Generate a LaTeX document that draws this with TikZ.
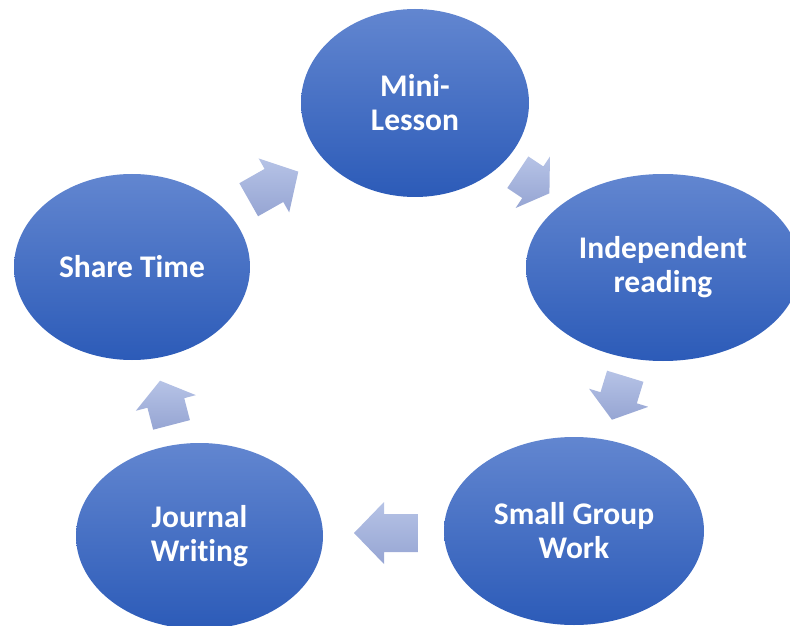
\documentclass[tikz,border=0pt]{standalone}
\usepackage{fontspec}
\setmainfont[Ligatures={NoCommon}]{Carlito}
\usetikzlibrary{shapes.geometric}
\definecolor{elltop}{RGB}{98,134,208}
\definecolor{ellbot}{RGB}{44,91,184}
\definecolor{arrtop}{RGB}{182,195,230}
\definecolor{arrbot}{RGB}{150,165,211}
\tikzset{
  cyclebox/.style={ellipse, inner sep=0pt, top color=elltop, bottom color=ellbot, draw=none,
    text=white, align=center, font=\fontsize{31.5}{34}\selectfont\bfseries},
  arrowfill/.style={top color=arrtop, bottom color=arrbot, draw=none}
}
\newcommand\cyclearrow[5]{%
  \begin{scope}[shift={(#1,#2)},rotate=#3]
    \path[arrowfill] ({-#4/2},19) -- ({#4/2-#5},19) -- ({#4/2-#5},31) -- ({#4/2},0)
      -- ({#4/2-#5},-31) -- ({#4/2-#5},-19) -- ({-#4/2},-19) -- cycle;
  \end{scope}}
\begin{document}
\begin{tikzpicture}[x=1pt,y=1pt]
\useasboundingbox (0,0) rectangle (790,625);
\clip (0,0) rectangle (790,625);
\node[cyclebox, minimum width=228pt, minimum height=188pt] (mini) at (415,522) {Mini-\\Lesson};
\node[cyclebox, minimum width=274pt, minimum height=187pt] (indep) at (663,357.5) {Independent\\reading};
\node[cyclebox, minimum width=260pt, minimum height=188pt] (small) at (574,94) {Small Group\\Work};
\node[cyclebox, minimum width=247pt, minimum height=186pt] (journal) at (199.5,89) {Journal\\Writing};
\node[cyclebox, minimum width=236pt, minimum height=186pt] (share) at (132,358) {Share Time};
\cyclearrow{273.5}{439.3}{29.5}{57}{28}
\cyclearrow{533.6}{442.2}{-33.7}{38}{20}
\cyclearrow{618.6}{227}{-107}{45.5}{23}
\cyclearrow{386}{92}{180}{64}{30}
\cyclearrow{165.8}{222.2}{104.6}{45.7}{23}
\end{tikzpicture}
\end{document}
